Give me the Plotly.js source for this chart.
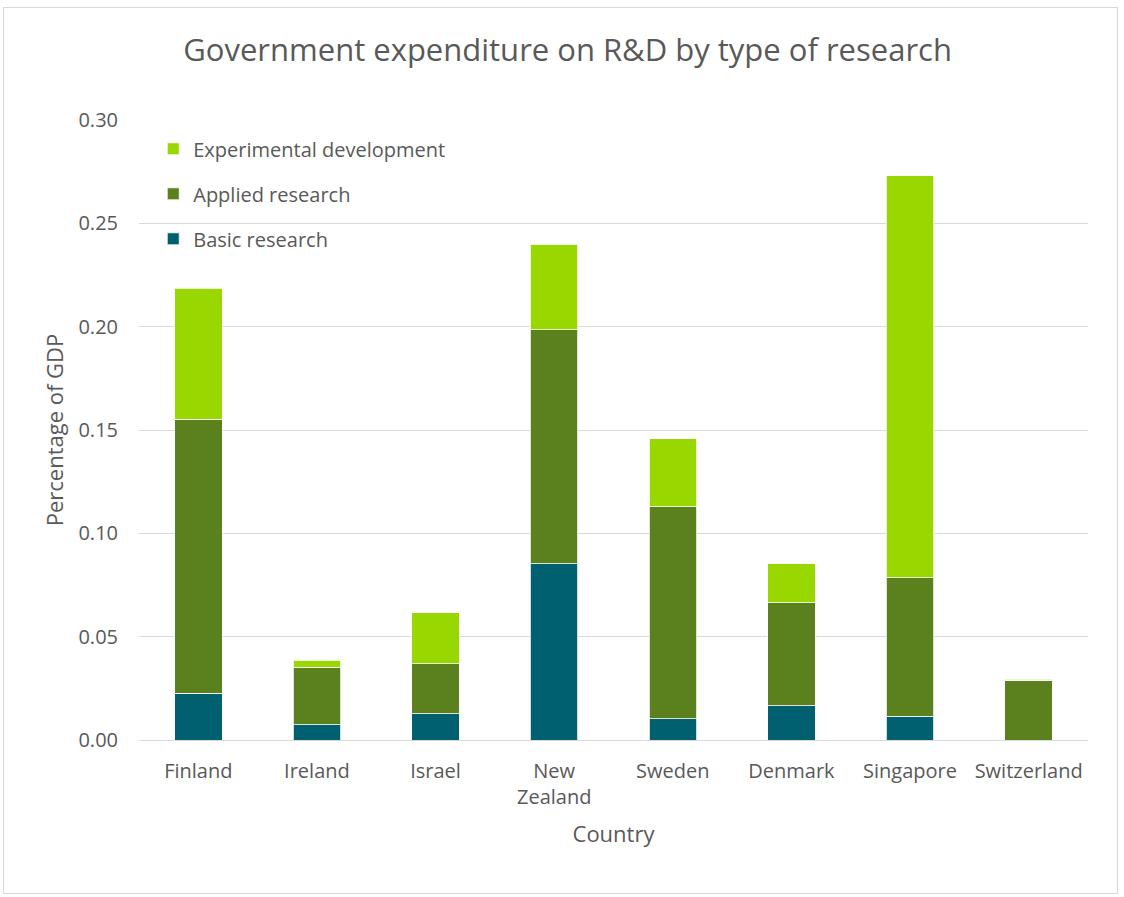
<!DOCTYPE html>
<html>
<head>
<meta charset="utf-8">
<script src="https://cdn.plot.ly/plotly-3.0.1.min.js"></script>
<style>
  html, body { margin: 0; padding: 0; background: #fff; }
  #wrap { position: relative; width: 1124px; height: 897px; }
  #chart { position: absolute; left: 0; top: 0; width: 1124px; height: 897px; }
  #frame { position: absolute; left: 3px; top: 7px; width: 1113px; height: 885px; border: 1px solid #d9d9d9; pointer-events: none; }
</style>
</head>
<body>
<div id="wrap">
  <div id="chart"></div>
  <div id="frame"></div>
</div>
<script>
const countries = ["Finland", "Ireland", "Israel", "New<br>Zealand", "Sweden", "Denmark", "Singapore", "Switzerland"];
const basicResearch = [0.0227, 0.0073, 0.0126, 0.0852, 0.0102, 0.0165, 0.0116, 0.0];
const appliedResearch = [0.1326, 0.0280, 0.0242, 0.1132, 0.1026, 0.0498, 0.0668, 0.0290];
const experimentalDevelopment = [0.0634, 0.0034, 0.0247, 0.0416, 0.0329, 0.0189, 0.1946, 0.0005];

const font = "Open Sans, Noto Sans, sans-serif";
const line = { color: "#ffffff", width: 0.8 };

const traces = [
  { type: "bar", name: "Basic research", x: countries, y: basicResearch,
    marker: { color: "#00606f", line: line }, legendgroup: "a", legendrank: 3 },
  { type: "bar", name: "Applied research", x: countries, y: appliedResearch,
    marker: { color: "#5b801e", line: line }, legendgroup: "b", legendrank: 2 },
  { type: "bar", name: "Experimental development", x: countries, y: experimentalDevelopment,
    marker: { color: "#99d700", line: line }, legendgroup: "c", legendrank: 1 }
];

const layout = {
  width: 1124, height: 897,
  margin: { l: 139, r: 36, t: 120, b: 157 },
  barmode: "stack",
  bargap: 0.6,
  paper_bgcolor: "rgba(0,0,0,0)",
  plot_bgcolor: "#ffffff",
  font: { family: font, color: "#595959" },
  title: { text: "Government expenditure on R&D by type of research",
    font: { family: font, size: 31, color: "#595959" },
    xref: "container", x: 0.505, xanchor: "center", yref: "container", y: 0.944, yanchor: "middle" },
  xaxis: {
    title: { text: "Country", font: { family: font, size: 22, color: "#595959" }, standoff: 17 },
    tickfont: { family: font, size: 20, color: "#595959" },
    showline: true, linecolor: "#d9d9d9", linewidth: 1,
    ticks: "", ticklabelstandoff: 13
  },
  yaxis: {
    title: { text: "Percentage of GDP", font: { family: font, size: 22, color: "#595959" }, standoff: 8 },
    range: [0, 0.30], dtick: 0.05, tickformat: ".2f",
    tickfont: { family: font, size: 20, color: "#595959" },
    gridcolor: "#d9d9d9", gridwidth: 1, zeroline: false,
    showline: false, ticks: "", ticklabelstandoff: 20
  },
  legend: {
    x: 0.015, xanchor: "left", y: 0.985, yanchor: "top",
    traceorder: "grouped", tracegroupgap: 16,
    font: { family: font, size: 20, color: "#595959" },
    bgcolor: "rgba(255,255,255,0)",
    itemwidth: 30
  },
  showlegend: true
};

Plotly.newPlot("chart", traces, layout, { displayModeBar: false, staticPlot: true });
</script>
</body>
</html>
